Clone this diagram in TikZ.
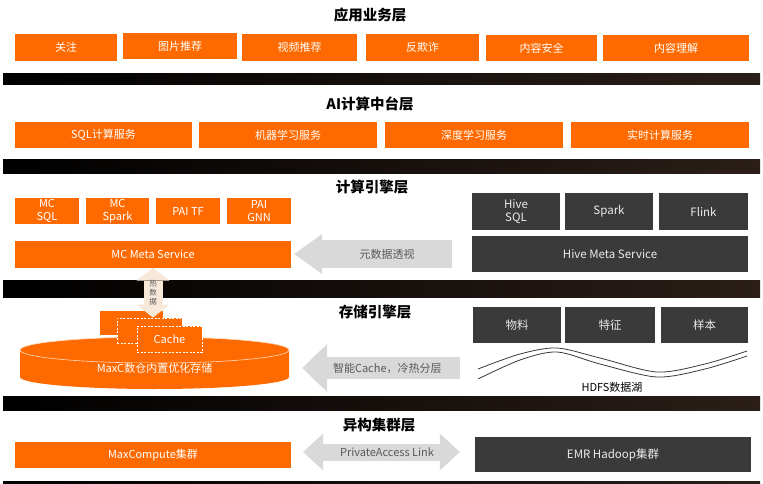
\documentclass[tikz,border=0pt]{standalone}
\usepackage{fontspec}
\setmainfont{Noto Sans CJK SC}
\usetikzlibrary{arrows.meta}
\definecolor{ali}{HTML}{FF6A00}
\definecolor{oscuro}{HTML}{3A3A3A}
\definecolor{gris}{HTML}{D9D9D9}
\definecolor{grisletra}{HTML}{595959}
\definecolor{durazno}{HTML}{F7E8DA}
\definecolor{franjafin}{HTML}{2B1E18}
\tikzstyle{titulo}=[inner sep=0pt,font=\fontsize{14.5}{16}\selectfont\bfseries]
\tikzstyle{caja}=[fill=ali,text=white,inner sep=0pt,align=center,font=\fontsize{11}{13}\selectfont]
\tikzstyle{punteada}=[caja,draw=white,dash pattern=on 2pt off 1.5pt,line width=0.8pt]
\tikzstyle{oscura}=[fill=oscuro,text=white!92!black,inner sep=0pt,align=center,font=\fontsize{11.5}{13}\selectfont]
\tikzstyle{etiqueta}=[text=grisletra,inner sep=0pt,font=\fontsize{11}{13}\selectfont]
\tikzstyle{franja}=[left color=black,right color=franjafin]
\tikzstyle{flecha}=[draw=gris,line width=28pt,-{Triangle[length=28pt,width=40pt,line width=0pt]}]
\tikzstyle{flechacache}=[draw=gris,line width=22pt,-{Triangle[length=25pt,width=48pt,line width=0pt]}]
\tikzstyle{flechadoble}=[draw=gris,line width=17pt,{Triangle[length=20pt,width=37pt,line width=0pt]}-{Triangle[length=20pt,width=37pt,line width=0pt]}]
\tikzstyle{flechacalor}=[draw=durazno,line width=19pt,{Triangle[length=13pt,width=33pt,line width=0pt]}-{Triangle[length=13pt,width=33pt,line width=0pt]}]

\begin{document}
\begin{tikzpicture}[x=1pt,y=-1pt]
    \useasboundingbox [fill=white] (0,0) rectangle (763,484);
    % franjas
    \shade [franja] (3,74) rectangle (760,85);
    \shade [franja] (3,160) rectangle (760,173);
    \shade [franja] (3,280) rectangle (760,297);
    \shade [franja] (3,396) rectangle (760,410);
    \shade [franja] (3,481) rectangle (760,484);

    % capa 1
    \node [titulo] (t1) at (370,14.5) {应用业务层};
    \node [caja, minimum width=102pt, minimum height=27pt] (guanzhu) at (66,47.5) {关注};
    \node [caja, minimum width=114pt, minimum height=26pt] (tupian) at (180,46) {图片推荐};
    \node [caja, minimum width=115pt, minimum height=27pt] (shipin) at (299.5,47.5) {视频推荐};
    \node [caja, minimum width=113pt, minimum height=27pt] (fanqizha) at (422.5,47.5) {反欺诈};
    \node [caja, minimum width=111pt, minimum height=26pt] (anquan) at (541.5,48) {内容安全};
    \node [caja, minimum width=146pt, minimum height=26pt] (lijie) at (676,48) {内容理解};

    % capa 2
    \node [titulo] (t2) at (370,103.5) {AI计算中台层};
    \node [caja, minimum width=177pt, minimum height=26pt] (sqlfw) at (103.5,135) {SQL计算服务};
    \node [caja, minimum width=178pt, minimum height=26pt] (jiqi) at (288,135) {机器学习服务};
    \node [caja, minimum width=178pt, minimum height=26pt] (shendu) at (474,135) {深度学习服务};
    \node [caja, minimum width=178pt, minimum height=26pt] (shishi) at (660,135) {实时计算服务};

    % capa 3
    \node [titulo] (t3) at (372,187) {计算引擎层};
    \node [caja, minimum width=64pt, minimum height=26pt] (mcsql) at (47,211) {MC\\SQL};
    \node [caja, minimum width=63pt, minimum height=26pt] (mcspark) at (117.5,211) {MC\\Spark};
    \node [caja, minimum width=64pt, minimum height=26pt] (paitf) at (188,211) {PAI TF};
    \node [caja, minimum width=64pt, minimum height=26pt] (paignn) at (259,211) {PAI\\GNN};
    \node [caja, minimum width=276pt, minimum height=27pt] (mcmeta) at (153,254) {MC Meta Service};
    \node [oscura, minimum width=88pt, minimum height=37pt] (hivesql) at (516,211.5) {Hive\\SQL};
    \node [oscura, minimum width=88pt, minimum height=37pt] (spark) at (609,211.5) {Spark};
    \node [oscura, minimum width=89pt, minimum height=37pt] (flink) at (703.5,211.5) {Flink};
    \node [oscura, minimum width=276pt, minimum height=36pt] (hivemeta) at (610,254) {Hive Meta Service};
    \draw [flecha] ([xshift=-20pt]hivemeta.west) -- ([xshift=3pt]mcmeta.east)
        node [etiqueta, pos=0.41] {元数据透视};

    % capa 4
    \node [titulo] (t4) at (375,312) {存储引擎层};
    \fill [ali] (20,350) -- (20,377) arc [start angle=180, end angle=360, x radius=134.5pt, y radius=12pt]
        -- (289,350) arc [start angle=0, end angle=180, x radius=134.5pt, y radius=13pt] -- cycle;
    \draw [white!75!ali, line width=0.6pt] (154.5,350) ellipse [x radius=134.5pt, y radius=13pt];
    \node [caja, minimum width=269pt] (maxc) at (154.5,368) {MaxC数仓内置优化存储};
    \node [caja, minimum width=63pt, minimum height=24pt] (cachea) at (131.5,323) {};
    \node [punteada, minimum width=65pt, minimum height=25pt] (cacheb) at (149.5,330.5) {};
    \node [punteada, minimum width=65pt, minimum height=26pt] (cachec) at (169.5,339) {Cache};
    \draw [flechacalor] (mcmeta.south) -- (mcmeta.south |- cacheb.north)
        node [midway, text=grisletra, align=center, inner sep=0pt, font=\fontsize{7.5}{9}\selectfont] {热\\数\\据};
    \node [oscura, minimum width=88pt, minimum height=36pt] (wuliao) at (517,325) {物料};
    \node [oscura, minimum width=90pt, minimum height=36pt] (tezheng) at (610,325) {特征};
    \node [oscura, minimum width=87pt, minimum height=36pt] (yangben) at (704.5,325) {样本};
    \draw [oscuro, line width=0.8pt] plot [smooth] coordinates {(478,369) (520,354) (557,348) (600,358) (657,372) (705,364) (747,351)};
    \draw [oscuro, line width=0.8pt] plot [smooth] coordinates {(478,379) (520,360) (557,352) (600,364) (657,377) (705,369) (747,356)};
    \node [inner sep=0pt, font=\fontsize{11}{13}\selectfont] (hdfs) at (612,387) {HDFS数据湖};
    \draw [flechacache] ([xshift=-13pt]wuliao.west |- maxc.east) -- ([xshift=13pt]maxc.east)
        node [etiqueta, pos=0.46] {智能Cache，冷热分层};

    % capa 5
    \node [titulo] (t5) at (379,425) {异构集群层};
    \node [caja, minimum width=276pt, minimum height=26pt] (mcc) at (153,455) {MaxCompute集群};
    \node [oscura, minimum width=276pt, minimum height=35pt] (emr) at (613,454.5) {EMR Hadoop集群};
    \draw [flechadoble] ([xshift=12pt,yshift=3pt]mcc.east) -- ([xshift=-15pt,yshift=3pt]mcc.east -| emr.west)
        node [etiqueta, pos=0.535] {PrivateAccess Link};
\end{tikzpicture}
\end{document}
